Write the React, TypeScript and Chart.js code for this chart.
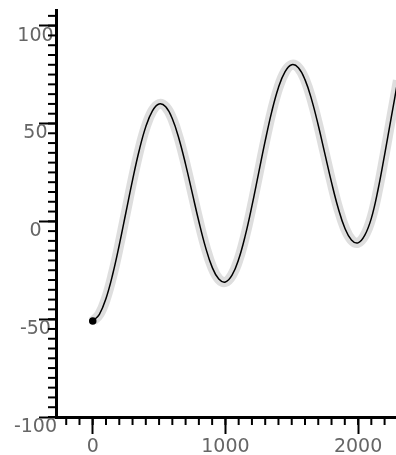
import React, { useEffect, useRef } from "react";
import { Chart, registerables } from "chart.js";

Chart.register(...registerables);

const xValues = [
  0, 50, 100, 150, 200, 250, 300, 350, 400, 450, 500, 550, 600, 650, 700, 750,
  800, 850, 900, 950, 1000, 1050, 1100, 1150, 1200, 1250, 1300, 1350, 1400,
  1450, 1500, 1550, 1600, 1650, 1700, 1750, 1800, 1850, 1900, 1950, 2000, 2050,
  2100, 2150, 2200, 2250, 2300,
];
const yValues = [
  -51.0, -47.5, -39.4, -27.2, -12.1, 4.5, 21.1, 36.2, 48.4, 56.5, 60.0, 58.5,
  52.4, 42.2, 29.1, 14.5, -0.1, -13.2, -23.4, -29.5, -31.0, -27.5, -19.4, -7.2,
  7.9, 24.5, 41.1, 56.2, 68.4, 76.5, 80.0, 78.5, 72.4, 62.2, 49.1, 34.5, 19.9,
  6.8, -3.4, -9.5, -11.0, -7.2, 1.5, 16.0, 34.0, 53.0, 72.0,
];

const xTickValues = [0, 1000, 2000];
const yTickValues = [-100, -50, 0, 50, 100];

const xMin = -277;
const xMax = 2286;
const yMin = -100;
const yMax = 108;
const xMinorStep = 100;
const yMinorStep = 5;

const minorTicks = {
  id: "minorTicks",
  afterDraw(chart: any) {
    const { ctx, chartArea, scales } = chart;
    const x = scales.x;
    const y = scales.y;
    ctx.save();
    ctx.strokeStyle = "#000";
    ctx.lineWidth = 2;
    const yStart = Math.ceil(yMin / yMinorStep) * yMinorStep;
    for (let v = yStart; v <= yMax; v += yMinorStep) {
      const p = y.getPixelForValue(v);
      ctx.beginPath();
      ctx.moveTo(chartArea.left, p);
      ctx.lineTo(chartArea.left - 8, p);
      ctx.stroke();
    }
    const xStart = Math.ceil(xMin / xMinorStep) * xMinorStep;
    for (let v = xStart; v <= xMax; v += xMinorStep) {
      const p = x.getPixelForValue(v);
      ctx.beginPath();
      ctx.moveTo(p, chartArea.bottom);
      ctx.lineTo(p, chartArea.bottom + 8);
      ctx.stroke();
    }
    ctx.restore();
  },
};

export default function App() {
  const ref = useRef<HTMLCanvasElement | null>(null);
  useEffect(() => {
    if (!ref.current) return;
    const pts = xValues.map((x, i) => ({ x, y: yValues[i] }));
    const font = { family: "'DejaVu Sans', sans-serif", size: 19 };
    const chart = new Chart(ref.current, {
      type: "line",
      data: {
        datasets: [
          {
            data: pts,
            borderColor: "#000",
            borderWidth: 1.5,
            tension: 0.4,
            pointRadius: (c: any) => (c.dataIndex === 0 ? 3 : 0),
            pointBackgroundColor: "#000",
            pointBorderColor: "#000",
          },
          {
            data: pts,
            borderColor: "rgba(0,0,0,0.13)",
            borderWidth: 10,
            tension: 0.4,
            pointRadius: 0,
          },
        ],
      },
      options: {
        animation: false,
        responsive: false,
        layout: { autoPadding: false, padding: { top: 10, right: 0, left: 0, bottom: 0 } },
        plugins: { legend: { display: false }, tooltip: { enabled: false } },
        scales: {
          x: {
            type: "linear",
            min: xMin,
            max: xMax,
            afterBuildTicks: (s: any) => {
              s.ticks = xTickValues.map((v) => ({ value: v }));
            },
            afterFit: (s: any) => {
              s.height = 38;
              s.paddingLeft = 0;
              s.paddingRight = 0;
            },
            border: { display: true, color: "#000", width: 3 },
            grid: {
              drawOnChartArea: false,
              drawTicks: true,
              tickLength: 17,
              tickColor: "#000",
              tickWidth: 2,
            },
            ticks: {
              maxRotation: 0,
              autoSkip: false,
              color: "#666",
              font,
              padding: 2,
              callback: (v: any) => String(v),
            },
          },
          y: {
            type: "linear",
            min: yMin,
            max: yMax,
            afterBuildTicks: (s: any) => {
              s.ticks = yTickValues.map((v) => ({ value: v }));
            },
            afterFit: (s: any) => {
              s.width = 56;
              s.paddingTop = 0;
              s.paddingBottom = 0;
            },
            border: { display: true, color: "#000", width: 3 },
            grid: {
              drawOnChartArea: false,
              drawTicks: true,
              tickLength: 17,
              tickColor: "#000",
              tickWidth: 2,
            },
            ticks: {
              color: "#666",
              font,
              crossAlign: "center",
              padding: -18,
              labelOffset: 10,
              callback: (v: any) => String(v),
            },
          },
        },
      },
      plugins: [minorTicks],
    } as any);
    return () => chart.destroy();
  }, []);
  return (
    <div style={{ position: "fixed", left: 0, top: 0, width: 396, height: 455, background: "#fff" }}>
      <canvas ref={ref} width={396} height={455} style={{ display: "block" }} />
    </div>
  );
}
